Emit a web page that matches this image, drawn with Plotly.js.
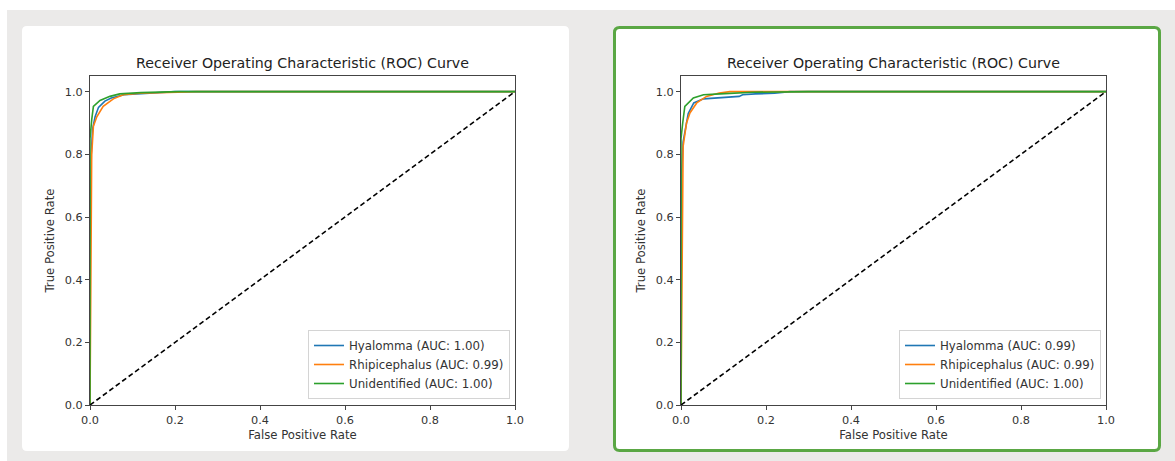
<!DOCTYPE html>
<html>
<head>
<meta charset="utf-8">
<script src="https://cdn.plot.ly/plotly-3.0.1.min.js"></script>
<style>
  html, body { margin: 0; padding: 0; background: #ffffff; }
  #chart { width: 1175px; height: 461px; }
</style>
</head>
<body>
<div id="chart"></div>
<script>
// ---- Data ----
const chartTitle = "Receiver Operating Characteristic (ROC) Curve";
const xTitle = "False Positive Rate";
const yTitle = "True Positive Rate";
const classNames = ["Hyalomma", "Rhipicephalus", "Unidentified"];
const aucLeft = ["1.00", "0.99", "1.00"];
const aucRight = ["0.99", "0.99", "1.00"];

// Left panel
const hyalLeftFpr = [0, 0, 0.003, 0.006, 0.012, 0.02, 0.035, 0.05, 0.08, 0.15, 0.2, 1];
const hyalLeftTpr = [0, 0.5, 0.8, 0.88, 0.92, 0.95, 0.97, 0.98, 0.99, 0.997, 1, 1];
const rhipLeftFpr = [0, 0.002, 0.003, 0.004, 0.008, 0.016, 0.031, 0.055, 0.078, 0.118, 0.25, 0.39, 1];
const rhipLeftTpr = [0, 0.3, 0.6, 0.8, 0.89, 0.92, 0.953, 0.977, 0.99, 0.995, 1, 1, 1];
const unidLeftFpr = [0, 0, 0.004, 0.008, 0.0235, 0.047, 0.07, 0.12, 0.21, 1];
const unidLeftTpr = [0, 0.85, 0.91, 0.953, 0.972, 0.985, 0.993, 0.997, 1, 1];

// Right panel
const hyalRightFpr = [0, 0, 0.002, 0.005, 0.017, 0.03, 0.053, 0.092, 0.137, 0.145, 0.175, 0.22, 0.256, 1];
const hyalRightTpr = [0, 0.6, 0.75, 0.84, 0.93, 0.964, 0.977, 0.98, 0.985, 0.99, 0.993, 0.995, 1, 1];
const rhipRightFpr = [0, 0.002, 0.003, 0.005, 0.013, 0.021, 0.037, 0.06, 0.09, 0.115, 0.49, 1];
const rhipRightTpr = [0, 0.5, 0.7, 0.825, 0.9, 0.932, 0.964, 0.985, 0.996, 1, 1, 1];
const unidRightFpr = [0, 0, 0.004, 0.009, 0.029, 0.053, 0.092, 0.17, 0.3, 1];
const unidRightTpr = [0, 0.85, 0.9, 0.953, 0.98, 0.99, 0.993, 0.998, 1, 1];

const diagX = [0, 1];
const diagY = [0, 1];

// ---- Styling ----
const W = 1175, H = 461;
const colors = ["#1f77b4", "#ff7f0e", "#2ca02c"];
const FONT = "DejaVu Sans, Liberation Sans, sans-serif";
const px = v => v / W;
const py = v => 1 - v / H;

function roundRect(x0, y0, x1, y1, r) {
  const X0 = px(x0), X1 = px(x1), Y0 = py(y0), Y1 = py(y1);
  const rx = r / W, ry = r / H;
  return `M ${X0 + rx},${Y0} L ${X1 - rx},${Y0} Q ${X1},${Y0} ${X1},${Y0 - ry} ` +
         `L ${X1},${Y1 + ry} Q ${X1},${Y1} ${X1 - rx},${Y1} L ${X0 + rx},${Y1} ` +
         `Q ${X0},${Y1} ${X0},${Y1 + ry} L ${X0},${Y0 - ry} Q ${X0},${Y0} ${X0 + rx},${Y0} Z`;
}

function curve(x, y, name, color, xa, ya, legend) {
  return { x: x, y: y, type: "scatter", mode: "lines", name: name,
           line: { color: color, width: 1.6 }, xaxis: xa, yaxis: ya,
           legend: legend, hoverinfo: "skip" };
}

const traces = [
  curve(hyalLeftFpr, hyalLeftTpr, `${classNames[0]} (AUC: ${aucLeft[0]})`, colors[0], "x", "y", "legend"),
  curve(rhipLeftFpr, rhipLeftTpr, `${classNames[1]} (AUC: ${aucLeft[1]})`, colors[1], "x", "y", "legend"),
  curve(unidLeftFpr, unidLeftTpr, `${classNames[2]} (AUC: ${aucLeft[2]})`, colors[2], "x", "y", "legend"),
  { x: diagX, y: diagY, type: "scatter", mode: "lines", showlegend: false,
    line: { color: "#000000", width: 1.6, dash: "5px,3px" }, xaxis: "x", yaxis: "y", hoverinfo: "skip" },
  curve(hyalRightFpr, hyalRightTpr, `${classNames[0]} (AUC: ${aucRight[0]})`, colors[0], "x2", "y2", "legend2"),
  curve(rhipRightFpr, rhipRightTpr, `${classNames[1]} (AUC: ${aucRight[1]})`, colors[1], "x2", "y2", "legend2"),
  curve(unidRightFpr, unidRightTpr, `${classNames[2]} (AUC: ${aucRight[2]})`, colors[2], "x2", "y2", "legend2"),
  { x: diagX, y: diagY, type: "scatter", mode: "lines", showlegend: false,
    line: { color: "#000000", width: 1.6, dash: "5px,3px" }, xaxis: "x2", yaxis: "y2", hoverinfo: "skip" }
];

const yDom = [py(405), py(76)];
function xAxis(dom, anchor) {
  return { domain: dom, anchor: anchor, range: [0, 1], tick0: 0, dtick: 0.2, tickformat: ".1f",
           showgrid: false, zeroline: false, showline: true, mirror: true, linecolor: "#444", linewidth: 1,
           ticks: "outside", ticklen: 4, tickcolor: "#444", tickfont: { family: FONT, size: 11.3, color: "#333" },
           title: { text: xTitle, font: { family: FONT, size: 11.7, color: "#333" }, standoff: 5 } };
}
function yAxis(anchor) {
  return { domain: yDom, anchor: anchor, range: [0, 1.05], tick0: 0, dtick: 0.2, tickformat: ".1f",
           showgrid: false, zeroline: false, showline: true, mirror: true, linecolor: "#444", linewidth: 1,
           ticks: "outside", ticklen: 4, tickcolor: "#444", tickfont: { family: FONT, size: 11.3, color: "#333" },
           title: { text: yTitle, font: { family: FONT, size: 11.7, color: "#333" }, standoff: 7 } };
}

function legendAt(xr, yb) {
  return { x: px(xr), y: py(yb), xanchor: "right", yanchor: "bottom",
           bgcolor: "rgba(255,255,255,0.9)", bordercolor: "#d4d4d4", borderwidth: 1,
           font: { family: FONT, size: 11.8, color: "#333" }, itemwidth: 30, tracegroupgap: 0 };
}

const layout = {
  width: W, height: H, autosize: false,
  margin: { l: 0, r: 0, t: 0, b: 0 },
  paper_bgcolor: "#ffffff", plot_bgcolor: "#ffffff",
  showlegend: true,
  xaxis: xAxis([px(90), px(515)], "y"),
  yaxis: yAxis("x"),
  xaxis2: xAxis([px(681), px(1106)], "y2"),
  yaxis2: yAxis("x2"),
  legend: legendAt(510, 399),
  legend2: legendAt(1101, 399),
  shapes: [
    { type: "rect", xref: "paper", yref: "paper", x0: px(7), x1: 1, y0: 0, y1: py(10),
      fillcolor: "#ebeae9", line: { width: 0 }, layer: "below" },
    { type: "path", xref: "paper", yref: "paper", path: roundRect(22, 26, 569, 451, 5),
      fillcolor: "#ffffff", line: { width: 0 }, layer: "below" },
    { type: "path", xref: "paper", yref: "paper", path: roundRect(614.5, 27.5, 1159.5, 450.5, 5),
      fillcolor: "#ffffff", line: { color: "#5aa744", width: 3 }, layer: "below" }
  ],
  annotations: [
    { text: chartTitle, xref: "paper", yref: "paper", x: px(302.5), y: py(63), xanchor: "center", yanchor: "middle",
      showarrow: false, font: { family: FONT, size: 14.2, color: "#222" } },
    { text: chartTitle, xref: "paper", yref: "paper", x: px(893.5), y: py(63), xanchor: "center", yanchor: "middle",
      showarrow: false, font: { family: FONT, size: 14.2, color: "#222" } }
  ]
};

Plotly.newPlot("chart", traces, layout, { staticPlot: true, displayModeBar: false });
</script>
</body>
</html>
